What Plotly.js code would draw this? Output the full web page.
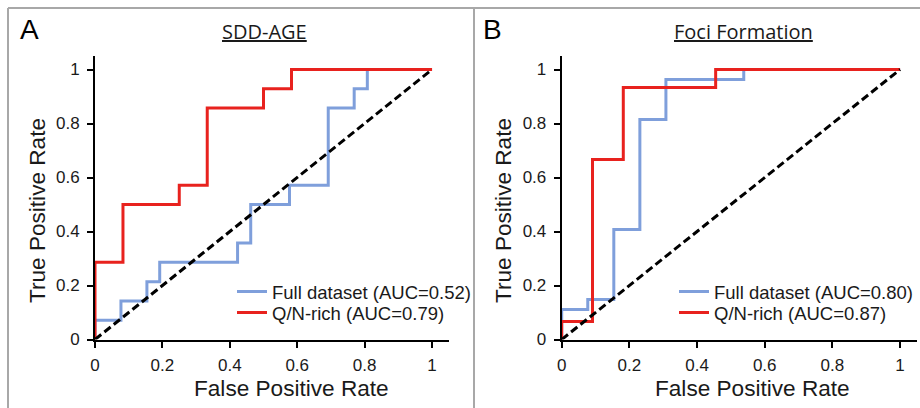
<!DOCTYPE html>
<html>
<head>
<meta charset="utf-8">
<script src="https://cdn.plot.ly/plotly-3.0.1.min.js"></script>
<style>html,body{margin:0;padding:0;background:#fff;}#chart{width:920px;height:408px;}</style>
</head>
<body>
<div id="chart"></div>
<script>
// ---- Data (ROC points) ----
const fprA_full = [0, 0, 0.077, 0.154, 0.192, 0.423, 0.462, 0.577, 0.692, 0.769, 0.808, 1];
const tprA_full = [0, 0.071, 0.143, 0.214, 0.286, 0.357, 0.5, 0.571, 0.857, 0.929, 1, 1];
const fprA_qn = [0, 0, 0.083, 0.25, 0.333, 0.5, 0.583, 1];
const tprA_qn = [0, 0.286, 0.5, 0.571, 0.857, 0.929, 1, 1];

const fprB_full = [0, 0, 0.077, 0.154, 0.231, 0.308, 0.538, 1];
const tprB_full = [0, 0.111, 0.148, 0.407, 0.815, 0.963, 1, 1];
const fprB_qn = [0, 0, 0.091, 0.182, 0.455, 1];
const tprB_qn = [0, 0.067, 0.667, 0.933, 1, 1];

const diagX = [0, 1];
const diagY = [0, 1];

const namesA = ["Full dataset (AUC=0.52)", "Q/N-rich (AUC=0.79)"];
const namesB = ["Full dataset (AUC=0.80)", "Q/N-rich (AUC=0.87)"];
const panelTitles = ["SDD-AGE", "Foci Formation"];
const panelLetters = ["A", "B"];
const tickVals = [0, 0.2, 0.4, 0.6, 0.8, 1];
const tickText = ["0", "0.2", "0.4", "0.6", "0.8", "1"];
const xTitle = "False Positive Rate";
const yTitle = "True Positive Rate";

// ---- Styling ----
const W = 920, H = 408;
const px = v => v / W;
const py = v => 1 - v / H;
const BLUE = "#7f9fdb";
const RED = "#e8221e";
const SANS = "Liberation Sans";
const tickFont = {family: SANS, size: 17, color: "#1a1a1a"};

function trace(x, y, name, color, xa, ya, leg) {
  return {x: x, y: y, name: name, type: "scatter", mode: "lines",
    line: {color: color, width: 3, shape: "hv"}, xaxis: xa, yaxis: ya,
    legend: leg, showlegend: true, hoverinfo: "skip"};
}
function diag(xa, ya) {
  return {x: diagX, y: diagY, type: "scatter", mode: "lines",
    line: {color: "#000", width: 3, dash: "8px,4px"}, xaxis: xa, yaxis: ya,
    showlegend: false, hoverinfo: "skip"};
}

const data = [
  trace(fprA_full, tprA_full, namesA[0], BLUE, "x", "y", "legend"),
  trace(fprA_qn, tprA_qn, namesA[1], RED, "x", "y", "legend2"),
  diag("x", "y"),
  trace(fprB_full, tprB_full, namesB[0], BLUE, "x2", "y2", "legend3"),
  trace(fprB_qn, tprB_qn, namesB[1], RED, "x2", "y2", "legend4"),
  diag("x2", "y2")
];

const yDom = [(H - 339.5) / H, (H - 56) / H];
function xAxis(d0, d1, anchor) {
  return {domain: [d0, d1], range: [0, 1.05], anchor: anchor, showgrid: false, zeroline: false,
    showline: true, linecolor: "#000", linewidth: 2, ticks: "outside", ticklen: 6, tickwidth: 2,
    tickcolor: "#000", tickvals: tickVals, ticktext: tickText, tickfont: tickFont,
    ticklabelstandoff: 3, fixedrange: true};
}
function yAxis(anchor) {
  return {domain: yDom, range: [0, 1.05], anchor: anchor, showgrid: false, zeroline: false,
    showline: true, linecolor: "#000", linewidth: 2, ticks: "outside", ticklen: 6, tickwidth: 2,
    tickcolor: "#000", tickvals: tickVals, ticktext: tickText, tickfont: tickFont,
    ticklabelstandoff: 4, fixedrange: true};
}

const axTitleFont = {family: SANS, size: 22.6, color: "#1a1a1a"};
const titleFont = {family: "Open Sans", size: 20, color: "#1a1a1a"};
const letterFont = {family: SANS, size: 28, color: "#000"};

const ann = [
  {text: panelLetters[0], x: px(29), y: py(30), font: letterFont},
  {text: panelLetters[1], x: px(493), y: py(30), font: letterFont},
  {text: "<u>" + panelTitles[0] + "</u>", x: px(264), y: py(32), font: titleFont},
  {text: "<u>" + panelTitles[1] + "</u>", x: px(743), y: py(32), font: titleFont},
  {text: yTitle, x: px(37), y: py(211), textangle: -90, font: axTitleFont},
  {text: yTitle, x: px(503), y: py(211), textangle: -90, font: axTitleFont},
  {text: xTitle, x: px(291), y: py(388), font: axTitleFont},
  {text: xTitle, x: px(752), y: py(388), font: axTitleFont}
].map(a => Object.assign({xref: "paper", yref: "paper", xanchor: "center", yanchor: "middle", showarrow: false}, a));

const frame = {type: "line", xref: "paper", yref: "paper", line: {color: "#a8a8a8", width: 2}};
const shapes = [
  Object.assign({x0: px(8), x1: 1, y0: py(8), y1: py(8)}, frame),
  Object.assign({x0: px(8), x1: px(8), y0: py(8), y1: 0}, frame),
  Object.assign({x0: px(474), x1: px(474), y0: py(8), y1: 0}, frame)
];

const legFont = {family: SANS, size: 18.5, color: "#1a1a1a"};
function leg(xp, yp) {
  return {x: px(xp), y: py(yp), xanchor: "left", yanchor: "middle", font: legFont,
    bgcolor: "rgba(0,0,0,0)", borderwidth: 0, tracegroupgap: 0};
}
const layout = {
  width: W, height: H, margin: {l: 0, r: 0, t: 0, b: 0},
  paper_bgcolor: "#fff", plot_bgcolor: "rgba(0,0,0,0)",
  xaxis: xAxis(px(95), px(448.9), "y"),
  yaxis: yAxis("x"),
  xaxis2: xAxis(px(561.7), px(917), "y2"),
  yaxis2: yAxis("x2"),
  legend: leg(232, 292),
  legend2: leg(232, 313),
  legend3: leg(674, 292),
  legend4: leg(674, 313),
  annotations: ann,
  shapes: shapes,
  showlegend: true
};

Plotly.newPlot("chart", data, layout, {displayModeBar: false, staticPlot: true});
</script>
</body>
</html>
